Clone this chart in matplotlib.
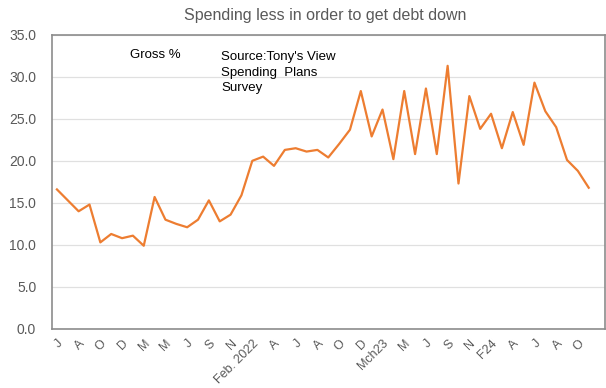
import matplotlib.pyplot as plt
import numpy as np

plt.rcParams['font.family'] = ['Liberation Sans', 'DejaVu Sans']

# survey results, gross %
values = [16.6, 15.3, 14.0, 14.8, 10.3, 11.3, 10.8, 11.1, 9.9, 15.7,
          13.0, 12.5, 12.1, 13.0, 15.3, 12.8, 13.6, 15.9, 20.0, 20.5,
          19.4, 21.3, 21.5, 21.1, 21.3, 20.4, 22.0, 23.7, 28.3, 22.9,
          26.1, 20.2, 28.3, 20.8, 28.6, 20.8, 31.3, 17.3, 27.7, 23.8,
          25.6, 21.5, 25.8, 21.9, 29.3, 25.9, 24.0, 20.1, 18.8, 16.8]

tick_labels = ['J', 'A', 'O', 'D', 'M', 'M', 'J', 'S', 'N', 'Feb. 2022',
               'A', 'J', 'A', 'O', 'D', 'Mch23', 'M', 'J', 'S', 'N',
               'F24', 'A', 'J', 'A', 'O']

x = np.arange(len(values))

fig = plt.figure(figsize=(6.06, 3.88), dpi=100)
ax = fig.add_axes([51.5 / 606, 59 / 388, 553.5 / 606, 294.3 / 388])

ax.plot(x, values, color='#ED7D31', linewidth=1.6)

ax.set_xlim(-0.5, 50.5)
ax.set_ylim(0, 35)
ax.set_yticks(np.arange(0, 35.1, 5))
ax.set_yticklabels([f'{v:.1f}' for v in np.arange(0, 35.1, 5)])
ax.set_xticks(x[::2])
ax.set_xticklabels(tick_labels, rotation=45, ha='right', rotation_mode='anchor')

ax.grid(axis='y', color='#e0e0e0', linewidth=0.9)
ax.set_axisbelow(True)
for s in ax.spines.values():
    s.set_color('#8c8c8c')
    s.set_linewidth(1.2)
ax.tick_params(length=0, labelcolor='#595959')
ax.tick_params(axis='x', pad=6, labelsize=9)
ax.tick_params(axis='y', pad=11, labelsize=10)

fig.text(0.537, 0.96, 'Spending less in order to get debt down',
         ha='center', va='center', fontsize=11.5, color='#595959')
fig.text(130 / 606, 1 - 55 / 388, 'Gross %', ha='left', va='center', fontsize=9.5)
fig.text(221 / 606, 1 - 51 / 388, "Source:Tony's View\nSpending  Plans\nSurvey",
         ha='left', va='top', fontsize=9.5, linespacing=1.4)

fig.savefig('out.png', dpi=100)
